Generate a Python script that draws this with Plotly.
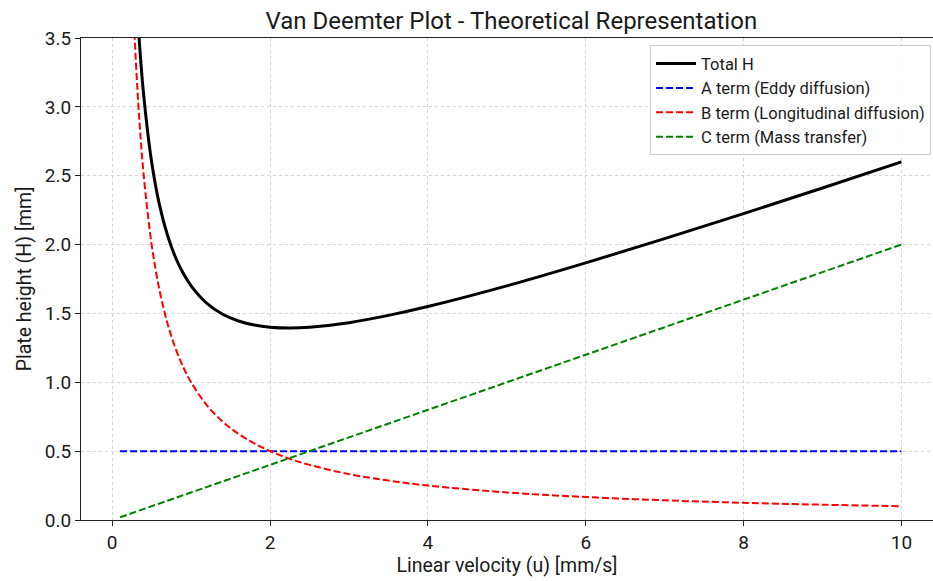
import plotly.graph_objects as go

# Linear velocity u [mm/s]
u = [0.1, 0.15, 0.2, 0.25, 0.3, 0.35, 0.4, 0.5, 0.6, 0.7, 0.8, 0.9, 1.0, 1.2, 1.4,
     1.6, 1.8, 2.0, 2.25, 2.5, 3.0, 3.5, 4.0, 5.0, 6.0, 7.0, 8.0, 9.0, 10.0]
# Plate height contributions [mm]
total_h = [10.52, 7.197, 5.54, 4.55, 3.893, 3.427, 3.08, 2.6, 2.287, 2.069, 1.91, 1.791, 1.7,
           1.573, 1.494, 1.445, 1.416, 1.4, 1.394, 1.4, 1.433, 1.486, 1.55, 1.7, 1.867,
           2.043, 2.225, 2.411, 2.6]
a_term = [0.5] * 29
b_term = [10.0, 6.667, 5.0, 4.0, 3.333, 2.857, 2.5, 2.0, 1.667, 1.429, 1.25, 1.111, 1.0,
          0.833, 0.714, 0.625, 0.556, 0.5, 0.444, 0.4, 0.333, 0.286, 0.25, 0.2, 0.167,
          0.143, 0.125, 0.111, 0.1]
c_term = [0.02, 0.03, 0.04, 0.05, 0.06, 0.07, 0.08, 0.1, 0.12, 0.14, 0.16, 0.18, 0.2,
          0.24, 0.28, 0.32, 0.36, 0.4, 0.45, 0.5, 0.6, 0.7, 0.8, 1.0, 1.2, 1.4, 1.6, 1.8, 2.0]

names = ["Total H", "A term (Eddy diffusion)", "B term (Longitudinal diffusion)",
         "C term (Mass transfer)"]
x_ticks = [0, 2, 4, 6, 8, 10]
y_ticks = [0.0, 0.5, 1.0, 1.5, 2.0, 2.5, 3.0, 3.5]

FONT = "Roboto"
TXT = "#1a1a1a"
fig = go.Figure()
fig.add_trace(go.Scatter(x=u, y=total_h, mode="lines", name=names[0],
                         line=dict(color="black", width=3, shape="spline")))
fig.add_trace(go.Scatter(x=u, y=a_term, mode="lines", name=names[1],
                         line=dict(color="#0000ff", width=2, dash="7px,3px")))
fig.add_trace(go.Scatter(x=u, y=b_term, mode="lines", name=names[2],
                         line=dict(color="#ff0000", width=2, dash="7px,3px", shape="spline")))
fig.add_trace(go.Scatter(x=u, y=c_term, mode="lines", name=names[3],
                         line=dict(color="#008000", width=2, dash="7px,3px")))

axis_common = dict(showline=True, linecolor="#222", linewidth=1.2, ticks="outside",
                   ticklen=5, tickcolor="#222", showgrid=True, gridcolor="#d4d4d4",
                   griddash="dot", gridwidth=1, zeroline=False,
                   tickfont=dict(family=FONT, size=19, color=TXT))
fig.update_layout(
    width=933, height=581,
    margin=dict(l=81, r=0, t=38, b=61),
    paper_bgcolor="white", plot_bgcolor="white",
    title=dict(text="Van Deemter Plot - Theoretical Representation", x=0.548, xanchor="center",
               y=0.965, yanchor="middle", font=dict(family=FONT, size=24, color=TXT)),
    xaxis=dict(range=[-0.395, 10.4], tickvals=x_ticks, ticktext=[str(t) for t in x_ticks],
               mirror=True,
               title=dict(text="Linear velocity (u) [mm/s]", standoff=3,
                          font=dict(family=FONT, size=19.5, color=TXT)),
               **axis_common),
    yaxis=dict(range=[0, 3.5], tickvals=y_ticks, ticktext=[f"{t:.1f}" for t in y_ticks],
               title=dict(text="Plate height (H) [mm]", standoff=7,
                          font=dict(family=FONT, size=19.5, color=TXT)),
               **axis_common),
    legend=dict(x=0.9977, xanchor="right", y=0.985, yanchor="top",
                bgcolor="rgba(255,255,255,0.85)", bordercolor="#cccccc", borderwidth=1,
                font=dict(family=FONT, size=16.5, color=TXT),
                itemwidth=40),
    showlegend=True,
)
fig.write_html("out.html")
